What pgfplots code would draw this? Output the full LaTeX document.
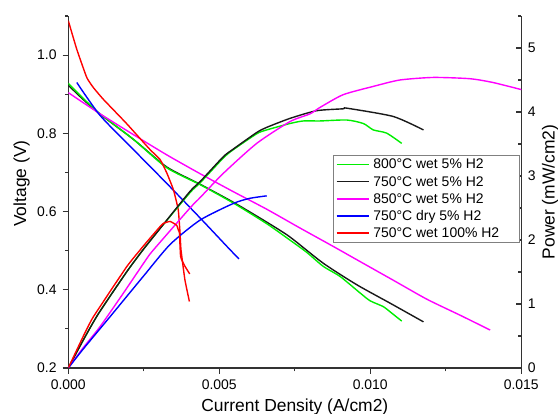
\documentclass[border=0pt]{standalone}
\usepackage{fontspec}
\setmainfont{Liberation Sans}
\usepackage{pgfplots}
\pgfplotsset{compat=1.18}
\definecolor{cgreen}{RGB}{0,238,0}
\definecolor{cmag}{RGB}{255,0,255}
\definecolor{cblue}{RGB}{0,0,255}
\definecolor{cred}{RGB}{255,0,0}
\definecolor{cblack}{RGB}{25,25,25}
\definecolor{axc}{RGB}{50,50,50}
\pgfplotsset{
  common/.style={
    width=453bp, height=352bp, scale only axis,
    xmin=0, xmax=0.015,
    axis line style={axc, line width=1.2bp, -},
    tick style={axc, line width=1.1bp},
    major tick length=5.7bp, minor tick length=3.3bp,
    tick label style={font=\fontsize{14}{17}\selectfont, text=black},
    label style={font=\fontsize{17.5}{20}\selectfont},
    every axis plot/.append style={line width=1.4bp, line join=round, smooth, tension=0.4},
  }
}
\begin{document}
\begin{tikzpicture}
\useasboundingbox (-68.3bp,-46bp) rectangle (489.7bp,368bp);
\begin{axis}[common,
  axis x line*=bottom, axis y line*=left,
  ymin=0.2, ymax=1.1,
  xtick={0,0.005,0.01,0.015}, xticklabels={0.000,0.005,0.010,0.015},
  minor xtick={0.0025,0.0075,0.0125},
  ytick={0.2,0.4,0.6,0.8,1.0}, yticklabels={0.2,0.4,0.6,0.8,1.0},
  minor ytick={0.3,0.5,0.7,0.9,1.1},
  tick align=outside,
  scaled x ticks=false,
  xticklabel style={yshift=-2.5bp},
  yticklabel style={xshift=-2.5bp},
  xlabel={Current Density (A/cm2)},
  ylabel={Voltage (V)},
  xlabel style={at={(axis description cs:0.5,-0.124)}, anchor=base},
  ylabel style={at={(axis description cs:-0.103,0.524)}, anchor=center},
]
% 750 wet 5% (black) voltage
\addplot[cblack] coordinates {
(0,0.923)(0.0005,0.886)(0.00105,0.849)(0.00215,0.785)(0.00326,0.714)(0.00436,0.670)
(0.00546,0.624)(0.00657,0.573)(0.00734,0.535)(0.00844,0.468)(0.00955,0.413)(0.01065,0.366)(0.01176,0.318)};
% 800 wet 5% (green) voltage
\addplot[cgreen] coordinates {
(0,0.928)(0.0005,0.889)(0.00105,0.850)(0.00215,0.785)(0.00326,0.712)(0.00436,0.669)
(0.00546,0.622)(0.00657,0.569)(0.00734,0.527)(0.00789,0.496)(0.00844,0.460)(0.0090,0.434)
(0.00966,0.392)(0.00999,0.372)(0.01043,0.357)(0.01065,0.344)(0.01104,0.320)};
% 850 wet 5% (magenta) voltage
\addplot[cmag] coordinates {
(0,0.904)(0.00105,0.850)(0.00215,0.797)(0.00326,0.745)(0.00436,0.697)(0.00546,0.651)
(0.00657,0.606)(0.00767,0.558)(0.00877,0.511)(0.00955,0.477)(0.01077,0.424)(0.01187,0.376)
(0.0130,0.334)(0.01397,0.297)};
% 750 dry 5% (blue) voltage
\addplot[cblue] coordinates {
(0.00028,0.930)(0.00105,0.846)(0.00215,0.759)(0.00326,0.672)(0.00436,0.584)(0.0053,0.507)(0.00565,0.479)};
% 750 wet 100% (red) voltage
\addplot[cred, tension=0.25] coordinates {
(0,1.088)(0.00028,1.015)(0.00061,0.943)(0.00083,0.917)(0.00116,0.887)(0.00193,0.825)
(0.0027,0.759)(0.00304,0.733)(0.00326,0.699)(0.00348,0.656)(0.00364,0.605)(0.0037,0.545)
(0.00373,0.503)(0.00386,0.426)(0.00401,0.370)};
\end{axis}
\begin{axis}[common,
  axis x line=none, axis y line*=right,
  ymin=0, ymax=5.5,
  ytick={0,1,2,3,4,5}, yticklabels={0,1,2,3,4,5},
  minor ytick={0.5,1.5,2.5,3.5,4.5,5.5},
  tick align=inside,
  yticklabel style={xshift=3bp},
  ylabel={Power (mW/cm2)},
  ylabel style={at={(axis description cs:1.0634,0.5)}, anchor=center},
  legend style={at={(axis description cs:0.5854,0.6051)}, anchor=north west,
    draw=gray, line width=0.8bp, fill=white, inner xsep=2bp, inner ysep=3bp,
    font=\fontsize{14}{17}\selectfont, row sep=5.2bp, column sep=4bp,
    nodes={inner sep=0pt, text height=10.5bp, text depth=1.5bp},
    cells={anchor=west}},
  legend image code/.code={\draw[#1, line width=1.5bp] (0bp,0bp) -- (32bp,0bp);},
]
\addplot[cgreen] coordinates {
(0,0)(0.0005,0.44)(0.001,0.85)(0.00193,1.50)(0.00248,1.85)(0.00304,2.18)(0.00403,2.74)
(0.00436,2.89)(0.00513,3.28)(0.00546,3.41)(0.00624,3.66)(0.00657,3.72)(0.00734,3.82)
(0.00778,3.86)(0.00833,3.86)(0.00922,3.875)(0.00977,3.82)(0.0101,3.72)(0.01054,3.67)(0.01104,3.51)};
\addlegendentry{\makebox[144bp][l]{800°C wet 5\% H2}}
\addplot[cblack] coordinates {
(0,0)(0.0005,0.44)(0.001,0.85)(0.00193,1.50)(0.00248,1.85)(0.00304,2.18)(0.00403,2.76)
(0.00436,2.91)(0.00513,3.30)(0.00546,3.42)(0.00624,3.68)(0.00657,3.76)(0.00734,3.90)
(0.00822,4.02)(0.0091,4.05)(0.00922,4.06)(0.01076,3.93)(0.01176,3.72)};
\addlegendentry{750°C wet 5\% H2}
\addplot[cmag] coordinates {
(0,0)(0.0005,0.32)(0.00105,0.645)(0.00182,1.167)(0.00257,1.69)(0.00281,1.84)(0.00403,2.50)
(0.00436,2.66)(0.00513,3.04)(0.00624,3.51)(0.00734,3.85)(0.0080,3.97)(0.00833,4.07)
(0.0091,4.27)(0.0101,4.40)(0.01098,4.50)(0.01209,4.54)(0.0133,4.52)(0.01407,4.46)(0.0150,4.35)};
\addlegendentry{850°C wet 5\% H2}
\addplot[cblue] coordinates {
(0,0)(0.0005,0.30)(0.00138,0.80)(0.00248,1.43)(0.00337,1.93)(0.00436,2.31)(0.00546,2.57)
(0.006,2.65)(0.00657,2.69)};
\addlegendentry{750°C dry 5\% H2}
\addplot[cred, tension=0.25] coordinates {
(0,0)(0.0005,0.50)(0.00083,0.80)(0.00193,1.58)(0.00237,1.84)(0.0026,1.97)(0.00304,2.21)
(0.00315,2.26)(0.00337,2.29)(0.00359,2.23)(0.00364,2.16)(0.00368,2.11)(0.00372,1.74)
(0.00385,1.60)(0.00402,1.47)};
\addlegendentry{750°C wet 100\% H2}
\end{axis}
\end{tikzpicture}
\end{document}
